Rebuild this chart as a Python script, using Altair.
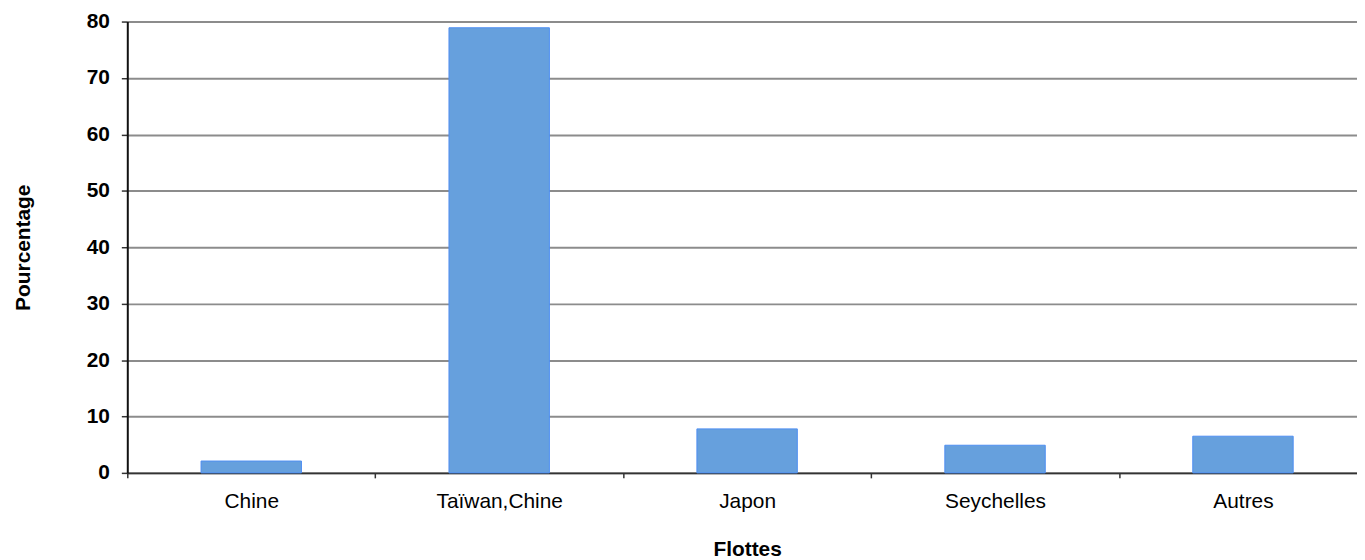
import altair as alt
import pandas as pd

categories = ["Chine", "Taïwan,Chine", "Japon", "Seychelles", "Autres"]
values = [2.1, 78.9, 7.8, 4.9, 6.5]
y_ticks = [0, 10, 20, 30, 40, 50, 60, 70, 80]

df = pd.DataFrame({"Flottes": categories, "Pourcentage": values})

FONT = "Liberation Sans"
FS = 21

chart = alt.Chart(df).mark_bar(
    color="#66A0DD", stroke="#4F8EF2", strokeWidth=1,
    width=alt.RelativeBandSize(0.405),
).encode(
    x=alt.X(
        "Flottes:N",
        sort=categories,
        title="Flottes",
        scale=alt.Scale(paddingInner=0, paddingOuter=0),
        axis=alt.Axis(
            labelAngle=0,
            labelFont=FONT,
            labelFontSize=FS,
            labelColor="#000000",
            labelPadding=13,
            tickBand="extent",
            tickSize=5,
            tickColor="#333333",
            tickWidth=1.5,
            domainColor="#333333",
            domainWidth=2,
            titleFont=FONT,
            titleFontSize=FS,
            titleFontWeight="bold",
            titleColor="#000000",
            titlePadding=27,
            grid=False,
        ),
    ),
    y=alt.Y(
        "Pourcentage:Q",
        title="Pourcentage",
        scale=alt.Scale(domain=[0, 80], nice=False),
        axis=alt.Axis(
            values=y_ticks,
            labelFont=FONT,
            labelFontSize=FS,
            labelFontWeight="bold",
            labelColor="#000000",
            labelPadding=12,
            tickSize=6,
            tickColor="#333333",
            tickWidth=1.5,
            domainColor="#111111",
            domainWidth=2,
            grid=True,
            gridColor="#8c8c8c",
            gridWidth=2,
            titleFont=FONT,
            titleFontSize=FS,
            titleFontWeight="bold",
            titleColor="#000000",
            titlePadding=53,
        ),
    ),
).properties(
    width=1247,
    height=454,
    autosize=alt.AutoSizeParams(type="none"),
    padding={"left": 120, "top": 12, "right": -10, "bottom": 86},
).configure_view(stroke=None).configure(background="white")

chart.save("out.html", embed_options={"renderer": "svg", "actions": False})
